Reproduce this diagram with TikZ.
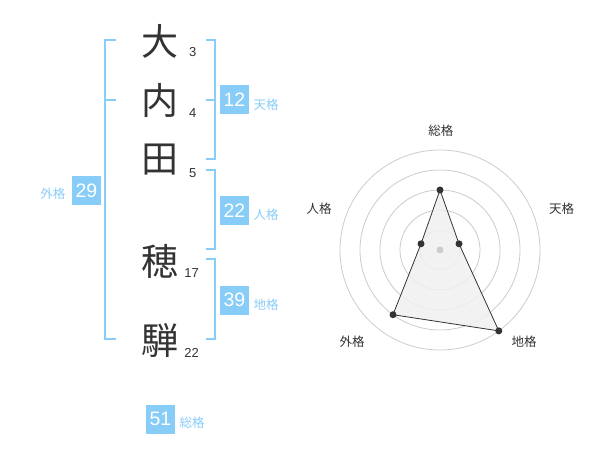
\documentclass[tikz,border=0pt]{standalone}
\usepackage{fontspec}
\setmainfont{Liberation Sans}
\newfontfamily\cjk{Noto Sans CJK JP}
\definecolor{sky}{HTML}{88CCF8}
\definecolor{ink}{HTML}{333333}
\definecolor{gridc}{HTML}{CCCCCC}
\definecolor{polyfill}{HTML}{F0F0F0}
\begin{document}
\begin{tikzpicture}[x=1pt,y=-1pt,
  kanji/.style={font=\cjk\fontsize{37}{37}\selectfont, text=ink, inner sep=0pt},
  stroke/.style={font=\fontsize{13}{13}\selectfont, text=ink, inner sep=0pt},
  numbox/.style={fill=sky, text=white, minimum size=29pt, inner sep=0pt, font=\fontsize{19.5}{19.5}\selectfont},
  kaku/.style={font=\cjk\fontsize{12.5}{12.5}\selectfont, text=sky, inner sep=0pt},
  bracket/.style={draw=sky, line width=2pt},
  ring/.style={draw=gridc, line width=0.8pt},
  rlabel/.style={font=\cjk\fontsize{12.5}{12.5}\selectfont, text=ink, inner sep=0pt},
  vdot/.style={circle, fill=ink, inner sep=0pt, minimum size=7pt}
]
\useasboundingbox (0,0) rectangle (600,470);
\fill[white] (0,0) rectangle (600,470);

% kanji
\node[kanji] (k1) at (160,41.7) {大};
\node[kanji] (k2) at (160,100) {内};
\node[kanji] (k3) at (160,160) {田};
\node[kanji] (k4) at (160,261.7) {穂};
\node[kanji] (k5) at (160,340) {騨};

% stroke counts
\node[stroke] (s1) at (192.7,52.3) {3};
\node[stroke] (s2) at (192.7,113.3) {4};
\node[stroke] (s3) at (192.7,172.7) {5};
\node[stroke] (s4) at (191.7,272.7) {17};
\node[stroke] (s5) at (191.7,352.7) {22};

% brackets
\draw[bracket] (116,40) -- (105,40) -- (105,339.5) -- (116,339.5);
\draw[bracket] (105,100) -- (116,100);
\draw[bracket] (206,40) -- (215,40) -- (215,159.5) -- (206,159.5);
\draw[bracket] (215,100) -- (206,100);
\draw[bracket] (206,170) -- (215,170) -- (215,249.5) -- (206,249.5);
\draw[bracket] (206,259.5) -- (215,259.5) -- (215,339.5) -- (206,339.5);

% boxes and labels
\node[numbox] (ten) at (234.5,100) {12};
\node[kaku, anchor=west] (tenl) at (253.5,104.3) {天格};
\node[numbox] (jin) at (234.5,210.2) {22};
\node[kaku, anchor=west] (jinl) at (253.5,214.7) {人格};
\node[numbox] (chi) at (234.5,300.2) {39};
\node[kaku, anchor=west] (chil) at (253.5,305) {地格};
\node[numbox] (gai) at (86.5,190.5) {29};
\node[kaku, anchor=east] (gail) at (65.5,194.2) {外格};
\node[numbox] (sou) at (160.5,419.2) {51};
\node[kaku, anchor=west] (soul) at (179.5,422.5) {総格};

% radar chart
\coordinate (c) at (440,250);
\foreach \r in {20,40,60,80,100} \draw[ring] (c) circle[radius=\r];
\path (c) ++(0,-60) coordinate (p1);
\path (c) ++(19.0,-6.2) coordinate (p2);
\path (c) ++(58.8,80.9) coordinate (p3);
\path (c) ++(-47.0,64.7) coordinate (p4);
\path (c) ++(-19.0,-6.2) coordinate (p5);
\filldraw[fill=polyfill, fill opacity=0.85, draw=ink, line width=0.8pt] (p1) -- (p2) -- (p3) -- (p4) -- (p5) -- cycle;
\node[circle, fill=gridc, inner sep=0pt, minimum size=7pt] (cd) at (c) {};
\foreach \p in {p1,p2,p3,p4,p5} \node[vdot] at (\p) {};
\node[rlabel] (r1) at (440.8,130.5) {総格};
\node[rlabel] (r2) at (561.7,208.7) {天格};
\node[rlabel] (r3) at (319.2,208.7) {人格};
\node[rlabel] (r4) at (352,342.2) {外格};
\node[rlabel] (r5) at (524.2,342.2) {地格};
\end{tikzpicture}
\end{document}
